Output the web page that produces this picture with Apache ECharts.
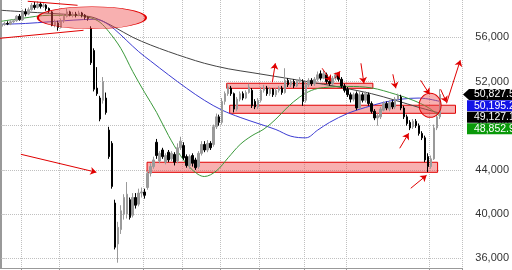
<!DOCTYPE html>
<html><head><meta charset="utf-8">
<script src="https://cdn.jsdelivr.net/npm/echarts@6/dist/echarts.min.js"></script>
<style>html,body{margin:0;padding:0;background:#fff}#c{width:512px;height:270px}</style>
</head><body><div id="c"></div>
<script>
// ---- data ----
const opens = [57000,57150,57250,57200,57400,57500,57900,57600,58300,58100,58500,58900,58700,59000,58800,58900,58600,58300,57100,57300,
56900,57500,57900,58300,58000,58100,58000,58200,58000,57800,56800,54800,51400,50500,50300,50500,47600,46400,41000,37300,
38600,40000,40000,41300,39900,41500,40900,41900,42000,42400,43700,44300,46500,44800,45800,44700,45600,45000,45400,44800,
46000,46200,45200,44400,45300,44900,44300,45500,46300,45800,46400,46300,47900,48800,48300,50200,50900,51400,50900,49500,
50400,50900,50500,51000,51200,50200,49700,50300,51200,51400,50900,51300,50800,51200,51400,51000,52100,51700,52000,51600,
52000,52000,50300,51700,52100,51800,52200,52700,52300,52600,52000,51800,52300,52600,52200,51600,51300,50800,50400,50900,
49600,50800,50300,50800,50000,49300,48700,48800,49400,50000,49500,50100,49700,50400,50600,49600,48800,48300,47900,48400,
48000,47300,46900,45200,44300,45000,47800,48800];
const closes = [57150,57250,57200,57400,57500,57900,57600,58300,58100,58500,58900,58700,59000,58800,58900,58600,58400,57100,57400,56900,
57500,57900,58300,58000,58100,58000,58200,58000,57800,57700,53700,51300,50900,48600,52000,49200,45200,42500,37000,38800,
40300,41500,41800,39700,41500,40800,41900,42000,41700,43700,44300,44900,45300,45500,45200,45300,44900,45500,44700,46000,
46600,45100,44400,45200,44600,44200,45500,46300,45800,46400,46000,47900,48800,48300,50200,50900,51500,50900,49500,50400,
50900,50500,51000,51500,49800,49700,50300,51200,51400,50900,51300,50800,51200,51400,51000,52100,51700,52000,51600,52000,
52200,50200,51700,52100,51800,52200,52600,52300,52700,52000,51800,52300,52600,52200,51600,51200,50800,50400,50800,49600,
50800,50300,50900,50000,49300,48700,48900,49500,50000,49600,50100,49700,50400,50700,49600,48800,48200,47800,48400,48000,
47300,46900,44900,44300,45000,47800,48800,50827.5];
const lows = [56900,57050,57100,57100,57300,57400,57500,57500,57900,58000,58400,58500,58600,58600,58650,58400,58200,57000,56900,56600,
56800,57300,57800,57900,57800,57800,57900,57800,57600,57500,53500,51100,50700,48400,50000,49000,45000,42300,36800,35600,
38200,39500,39600,39500,39700,40500,40700,41500,41400,42200,43400,44100,45000,44600,45000,44500,44700,44800,44400,44600,
45800,44900,44200,44100,44300,44000,44100,45300,45600,45600,45800,46100,47700,48000,48100,49900,50700,50700,49200,49300,
50200,50300,50400,50900,49600,49500,49500,50100,51000,50700,50700,50600,50600,51000,50800,50900,51500,51500,51400,51500,
51800,49800,50100,51500,51600,51600,52000,52100,52200,51800,51600,51700,52100,52000,51400,51000,50600,50100,50200,49400,
49500,50100,50100,49800,49100,48500,48000,48600,49300,49400,49300,49500,49500,50200,49400,48600,48000,47600,47700,47800,
47100,46700,44700,43800,44100,44900,47600,48600];
const highs = [57300,57400,57450,57550,57650,58000,58100,58500,58600,58700,59100,59200,59250,59200,59100,59000,58700,58400,57600,57500,
57700,58100,58600,58400,58300,58300,58400,58300,58100,57900,57000,55000,53300,50700,52400,51000,47900,46600,41300,39300,
40800,41800,42900,41500,41900,41900,42300,42400,42300,43900,44600,45200,46800,45700,46000,45500,45800,45700,45600,46400,
47000,46500,45400,45400,45500,45100,45700,46600,46600,46700,46600,48100,49100,49000,50500,51100,51800,51600,51000,50600,
51100,51100,51200,51800,51400,50400,50500,51500,51700,51600,51500,51400,51400,51600,51600,53200,52300,52200,52200,52200,
52400,52200,52000,52300,52300,52400,52900,53000,53000,52800,52200,52500,52800,52800,52400,51800,51500,51000,51000,51100,
51100,51000,51100,51000,50200,49500,49100,49700,50200,50200,50300,50300,50600,50900,50800,49800,49000,48500,48600,48600,
48200,47500,47100,45500,45300,48100,49000,51300];
// moving averages: [candle index, value]
const maLong = [[0,58440],[8,58300],[16,58170],[24,58030],[30,57850],[34,57450],[38,56900],[44,56000],[50,55300],
[56,54700],[62,54150],[68,53650],[76,53150],[84,52800],[92,52450],[100,52100],[108,51750],[116,51350],[124,50900],
[132,50300],[140,49650],[147,49127.1]];
const maMid = [[0,57180],[8,57250],[16,57400],[24,57550],[31,57630],[34,57450],[38,56700],[42,55700],[46,54700],
[50,53850],[56,52600],[62,51400],[68,50300],[74,49400],[80,48750],[86,48200],[92,47650],[97,47050],[102,46900],
[106,47600],[110,48300],[116,49100],[122,49650],[128,50100],[134,50400],[140,50500],[147,50195.2]];
const maShort = [[0,57450],[7,57720],[16,57990],[25,57990],[30,57750],[33,57360],[36,56500],[40,55000],[44,52900],
[48,51000],[52,49200],[56,47100],[60,45300],[64,44000],[68,43400],[72,43900],[76,45100],[80,46300],[84,47100],
[88,47700],[92,48600],[96,49700],[100,50600],[104,51200],[108,51450],[116,51550],[124,51420],[132,50850],
[138,50300],[143,49650],[147,48852.9]];
const yTicks = [36000, 40000, 44000, 48000, 52000, 56000];
const periodStarts = [7, 20, 48, 61, 74, 87, 102, 116, 144];
const badgeValues = [50827.5, 50195.2, 49127.1, 48852.9];
const badgeColors = ['#000000', '#1414e6', '#000000', '#0a990a'];
const slotCount = 155;
const categories = Array.from({length: slotCount}, (_, i) => String(i));

// annotations (in candle-index / price units)
const zones = [[75.5, 51840, 124.5, 51380], [76.5, 49850, 152.2, 49120], [48.8, 44690, 146.2, 43780]];
const ellipses = [[30.3, 57765, 108, 22], [143.7, 49846, 22, 24]];
const trendLines = [[8.8, 59260, 25.5, 58896], [-0.5, 55910, 27.5, 56634]];
const arrows = [[6.5,45411,31.8,43782],[18.8,35095,28.8,36000],[90.8,51928,91.8,53647],[107.5,53195,110.5,52018],
[111.8,52290,113.5,52923],[120.5,53647,121.5,51837],[131.2,52652,132.2,51384],[140.5,52109,143.5,50842],
[147.2,51294,149.2,50118],[149.2,50027,153.8,53919],[133.5,45955,136.5,47312],[137.2,42335,142.5,43511]];

const candles = opens.map((o, i) => [o, closes[i], lows[i], highs[i]]);
const RED = '#e00000', PINK = 'rgba(240,80,80,0.45)';
const fmt = v => Number(v).toLocaleString('en-US');
const maSeries = (name, data, color) => ({
  type: 'line', name, data, xAxisIndex: 1, smooth: 0.35, showSymbol: false,
  lineStyle: {color, width: 1}, z: 2, silent: true
});

const chart = echarts.init(document.getElementById('c'), null, {renderer: 'canvas'});
chart.setOption({
  animation: false,
  backgroundColor: '#fff',
  grid: {left: 0, right: 47, top: 0, bottom: 2},
  xAxis: [{
    type: 'category', data: categories, boundaryGap: true,
    axisLine: {lineStyle: {color: '#999'}},
    axisTick: {show: true, length: 4, interval: (i) => periodStarts.includes(i), lineStyle: {color: '#999'}},
    axisLabel: {show: false},
    splitLine: {show: true, interval: (i) => periodStarts.includes(i), lineStyle: {type: 'dotted', color: '#c0c0c0'}}
  }, {
    type: 'value', show: false, min: -0.5, max: slotCount - 0.5
  }],
  yAxis: [{
    type: 'value', position: 'right', min: 35120, max: 59375, scale: true,
    axisLine: {show: true, lineStyle: {color: '#999'}},
    axisTick: {show: true, length: 4, customValues: yTicks, lineStyle: {color: '#ccc'}},
    axisLabel: {customValues: yTicks, formatter: fmt, color: '#333', fontSize: 11, margin: 13, fontFamily: 'Liberation Sans, Arial, sans-serif'},
    splitLine: {show: true, lineStyle: {type: 'dotted', color: '#c0c0c0'}}
  }, {
    type: 'value', position: 'left', min: 35120, max: 59375,
    axisLine: {show: true, lineStyle: {color: '#999'}},
    axisTick: {show: false}, axisLabel: {show: false}, splitLine: {show: false}
  }],
  series: [
    maSeries('maLong', maLong, '#444'),
    maSeries('maMid', maMid, '#3c3cd2'),
    maSeries('maShort', maShort, '#3a993a'),
    {
      type: 'candlestick', name: 'price', data: candles, barWidth: 2, z: 3,
      itemStyle: {color: '#9a9a9a', color0: '#000', borderColor: '#9a9a9a', borderColor0: '#000', borderWidth: 1}
    },
    {
      type: 'line', name: 'notes', xAxisIndex: 1, yAxisIndex: 0, data: [], z: 5, silent: true,
      markArea: {
        silent: true,
        itemStyle: {color: PINK, borderColor: RED, borderWidth: 1},
        data: zones.map(z => [{coord: [z[0], z[1]]}, {coord: [z[2], z[3]]}])
      },
      markPoint: {
        silent: true, label: {show: false},
        data: ellipses.map(e => ({coord: [e[0], e[1]], symbol: 'circle', symbolSize: [e[2], e[3]],
          itemStyle: {color: PINK, borderColor: RED, borderWidth: 1}}))
      },
      markLine: {
        silent: true, symbol: ['none', 'arrow'], symbolSize: 6, label: {show: false},
        lineStyle: {color: RED, width: 1, type: 'solid'},
        emphasis: {disabled: true},
        data: arrows.map(a => [{coord: [a[0], a[1]]}, {coord: [a[2], a[3]]}])
          .concat(trendLines.map(t => [{coord: [t[0], t[1]], symbol: 'none'}, {coord: [t[2], t[3]], symbol: 'none'}]))
      }
    }
  ]
});

// price / indicator value badges on the right axis
const y0 = chart.convertToPixel({yAxisIndex: 0}, badgeValues[0]);
const badges = [];
badgeValues.forEach((v, k) => {
  const yc = y0 + k * 11.4;
  const shape = k === 0
    ? {type: 'polygon', shape: {points: [[463, yc], [469, yc - 5.5], [512, yc - 5.5], [512, yc + 5.5], [469, yc + 5.5]]}}
    : {type: 'rect', shape: {x: 467, y: yc - 5.5, width: 45, height: 11}};
  badges.push(Object.assign(shape, {style: {fill: badgeColors[k]}, z: 10}));
  badges.push({type: 'text', x: 474, y: yc, z: 11,
    style: {text: v.toLocaleString('en-US', {minimumFractionDigits: 1}), fill: '#fff', fontSize: 10.5,
      fontFamily: 'Liberation Sans, Arial, sans-serif', verticalAlign: 'middle'}});
});
chart.setOption({graphic: badges});
</script></body></html>
